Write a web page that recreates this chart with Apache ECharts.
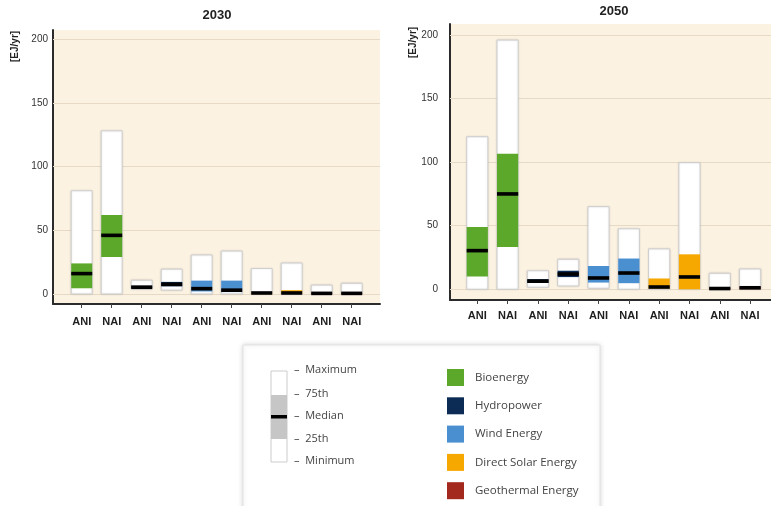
<!DOCTYPE html>
<html>
<head>
<meta charset="utf-8">
<script src="https://cdn.jsdelivr.net/npm/echarts@6/dist/echarts.min.js"></script>
<style>
html,body{margin:0;padding:0;background:#fff;}
#chart{width:771px;height:506px;}
</style>
</head>
<body>
<div id="chart"></div>
<script>
// ---- data (values in EJ/yr): each entry [min, 25th, median, 75th, max], first ANI then NAI ----
const xLabels = ['ANI','NAI','ANI','NAI','ANI','NAI','ANI','NAI','ANI','NAI'];
const yTicks = [0, 50, 100, 150, 200];
const energies = ['Bioenergy','Hydropower','Wind Energy','Direct Solar Energy','Geothermal Energy'];
const energyColors = ['#5ca82a','#0c2c55','#4a8fd0','#f6a800','#a3281e'];

const bio2030   = [[0, 4.5, 16, 24, 81],    [0, 29, 46, 62, 128]];
const hydro2030 = [[3.7, 4.5, 5.3, 6.5, 10.8], [3, 6, 7.6, 9.5, 19.5]];
const wind2030  = [[0, 2, 4.2, 10.5, 30.6], [0, 1.5, 3, 10.5, 33.7]];
const solar2030 = [[0, 0, 0.8, 1.5, 20],    [0, 0, 0.8, 3, 24.3]];
const geo2030   = [[0, 0, 0.5, 0.8, 7],     [0, 0, 0.5, 0.8, 8.4]];

const bio2050   = [[0, 10, 30.4, 49, 120],  [0, 33.3, 75, 106.6, 196]];
const hydro2050 = [[1.6, 5, 6.4, 8, 14.6],  [2.6, 9.6, 12, 14.6, 23.6]];
const wind2050  = [[0.8, 5.3, 8.9, 18.3, 65], [0, 4.8, 12.8, 24.2, 47.6]];
const solar2050 = [[0, 0.5, 1.8, 8.5, 31.8], [0, 0, 9.7, 27.5, 99.6]];
const geo2050   = [[0, 0, 0.6, 1, 12.6],    [0, 0, 1.2, 2, 16]];

const data2030 = [bio2030, hydro2030, wind2030, solar2030, geo2030];
const data2050 = [bio2050, hydro2050, wind2050, solar2050, geo2050];

// ---- chart ----
const FONT = '"Liberation Sans", "Open Sans", sans-serif';
const BG = '#fcf2e2';
const chart = echarts.init(document.getElementById('chart'), null, {renderer:'canvas'});

function renderBox(params, api) {
  const x = api.value(0);
  const mn = api.value(1), q1 = api.value(2), md = api.value(3), q3 = api.value(4), mx = api.value(5);
  const half = 0.35;
  const pMaxL = api.coord([x - half, mx]);
  const pMinR = api.coord([x + half, mn]);
  const pQ3L = api.coord([x - half, q3]);
  const pQ1R = api.coord([x + half, q1]);
  const pMed = api.coord([x - half, md]);
  const w = pMinR[0] - pMaxL[0];
  const color = api.visual('color');
  return {
    type: 'group',
    children: [
      {type:'rect', shape:{x:pMaxL[0], y:pMaxL[1], width:w, height:pMinR[1]-pMaxL[1]},
       style:{fill:'#ffffff', stroke:'#cfcfcf', lineWidth:1, shadowBlur:2, shadowColor:'rgba(0,0,0,0.12)'}},
      {type:'rect', shape:{x:pQ3L[0], y:pQ3L[1], width:w, height:Math.max(pQ1R[1]-pQ3L[1],0)},
       style:{fill:color}},
      {type:'rect', shape:{x:pMed[0], y:pMed[1]-1.8, width:w, height:3.6},
       style:{fill:'#000000'}}
    ]
  };
}

function buildSeries(dataSet, gi) {
  return dataSet.map((pair, ei) => {
    const s = {
      name: energies[ei],
      type: 'custom',
      xAxisIndex: gi, yAxisIndex: gi,
      itemStyle: {color: energyColors[ei]},
      renderItem: renderBox,
      encode: {x: 0, y: [1,2,3,4,5]},
      data: pair.map((v, j) => [ei*2 + j].concat(v)),
      z: 3,
      silent: true
    };
    if (ei === 0) {
      s.markLine = {
        silent: true, symbol: 'none', z: 1,
        label: {show:false},
        lineStyle: {color:'#e6dac6', width:1, type:'solid'},
        data: yTicks.map(t => ({yAxis: t}))
      };
    }
    return s;
  });
}

function xAxisCfg(gi, min, max, margin) {
  return {
    type:'value', gridIndex: gi, min: min, max: max,
    axisLine:{show:true, onZero:false, lineStyle:{color:'#2b2b2b', width:2}},
    axisTick:{show:true, customValues:[0,1,2,3,4,5,6,7,8,9], length:4, lineStyle:{color:'#444', width:1}},
    axisLabel:{customValues:[0,1,2,3,4,5,6,7,8,9], formatter: v => xLabels[Math.round(v)],
      margin: margin, fontFamily: FONT, fontWeight:'bold', fontSize:11, color:'#1e1e1e'},
    splitLine:{show:false}
  };
}
function yAxisCfg(gi, min, max, margin) {
  return {
    type:'value', gridIndex: gi, min: min, max: max,
    axisLine:{show:true, onZero:false, lineStyle:{color:'#2b2b2b', width:2}},
    axisTick:{show:false},
    axisLabel:{customValues: yTicks, margin: margin, fontFamily: FONT, fontSize:10, color:'#333'},
    splitLine:{show:false}
  };
}

const option = {
  animation: false,
  backgroundColor: '#ffffff',
  title: [
    {text:'2030', left:212, top:4, textAlign:'center',
     textStyle:{fontFamily:FONT, fontSize:13, fontWeight:'bold', color:'#222'}},
    {text:'2050', left:609, top:0, textAlign:'center',
     textStyle:{fontFamily:FONT, fontSize:13, fontWeight:'bold', color:'#222'}}
  ],
  grid: [
    {left:53, top:30, width:327, height:274, show:true, backgroundColor:BG, borderWidth:0},
    {left:450, top:24, width:321, height:276, show:true, backgroundColor:BG, borderWidth:0}
  ],
  xAxis: [xAxisCfg(0, -0.957, 9.943, 12), xAxisCfg(1, -0.90, 9.69, 10)],
  yAxis: [yAxisCfg(0, -7.84, 207.06, 5), yAxisCfg(1, -8.42, 208.65, 12)],
  legend: {
    data: energies, orient:'vertical', left:442, top:364, icon:'rect',
    itemWidth:17, itemHeight:17, itemGap:11.3, selectedMode:false,
    textStyle:{fontFamily:'"Open Sans", sans-serif', fontSize:11.5, color:'#444', padding:[0,0,0,6]}
  },
  graphic: [
    {type:'text', x:10, y:62, rotation:Math.PI/2,
     style:{text:'[EJ/yr]', fontFamily:FONT, fontSize:10, fontWeight:'bold', fill:'#222'}},
    {type:'text', x:408, y:58, rotation:Math.PI/2,
     style:{text:'[EJ/yr]', fontFamily:FONT, fontSize:10, fontWeight:'bold', fill:'#222'}},
    {type:'rect', z:-1, shape:{x:243, y:345, width:357, height:175},
     style:{fill:'#ffffff', stroke:'#e2e2e2', lineWidth:1, shadowBlur:5, shadowColor:'rgba(0,0,0,0.15)'}},
    {type:'rect', shape:{x:271, y:371, width:16, height:91}, style:{fill:'#ffffff', stroke:'#cccccc', lineWidth:1}},
    {type:'rect', shape:{x:271, y:395, width:16, height:44}, style:{fill:'#c6c6c6'}},
    {type:'rect', shape:{x:271, y:415, width:16, height:3.5}, style:{fill:'#000000'}},
    {type:'text', x:294, y:370, style:{text:'–  Maximum', fontFamily:'"Open Sans", sans-serif', fontSize:11, fill:'#444', verticalAlign:'middle'}},
    {type:'text', x:294, y:394, style:{text:'–  75th', fontFamily:'"Open Sans", sans-serif', fontSize:11, fill:'#444', verticalAlign:'middle'}},
    {type:'text', x:294, y:416, style:{text:'–  Median', fontFamily:'"Open Sans", sans-serif', fontSize:11, fill:'#444', verticalAlign:'middle'}},
    {type:'text', x:294, y:439, style:{text:'–  25th', fontFamily:'"Open Sans", sans-serif', fontSize:11, fill:'#444', verticalAlign:'middle'}},
    {type:'text', x:294, y:461, style:{text:'–  Minimum', fontFamily:'"Open Sans", sans-serif', fontSize:11, fill:'#444', verticalAlign:'middle'}}
  ],
  series: buildSeries(data2030, 0).concat(buildSeries(data2050, 1))
};
chart.setOption(option);
</script>
</body>
</html>
